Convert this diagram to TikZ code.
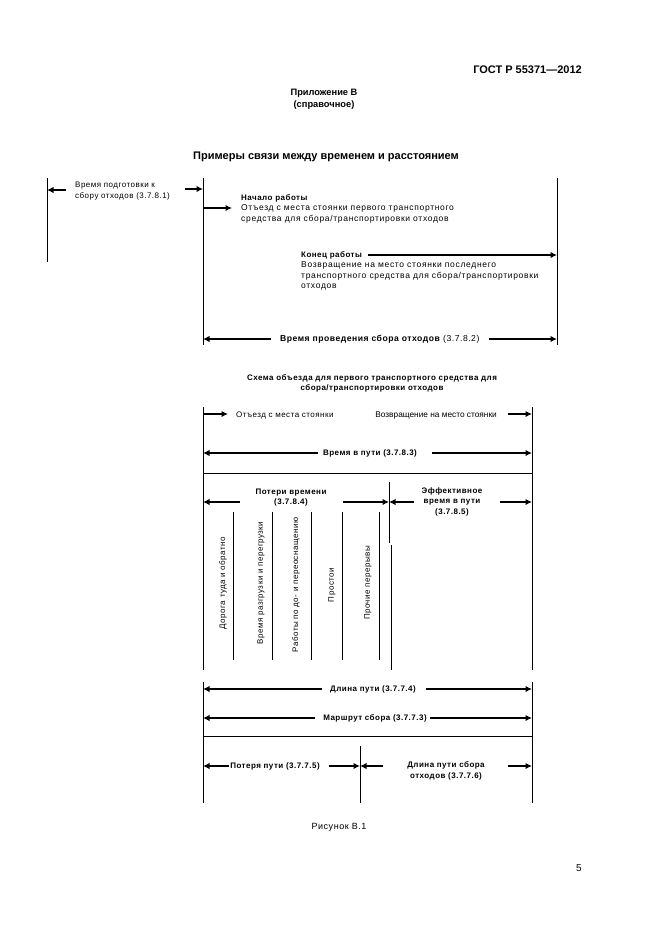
\documentclass[tikz,border=0pt]{standalone}
\usepackage{fontspec}
\setmainfont{Liberation Sans}
\newfontfamily\regf[LetterSpace=6]{Liberation Sans}
\newfontfamily\regw[LetterSpace=8]{Liberation Sans}
\usetikzlibrary{arrows.meta}
\tikzset{
  vline/.style={line width=0.8pt},
  arr/.style={line width=1.7pt,-{Latex[length=6.5pt,width=6.5pt]}},
  txt/.style={inner sep=0pt,font=\regw\fontsize{8.5}{10.5}\selectfont},
  stxt/.style={inner sep=0pt,font=\regf\fontsize{8}{10.5}\selectfont},
  btxt/.style={inner sep=0pt,font=\regf\bfseries\fontsize{8}{10.5}\selectfont},
  rtxt/.style={inner sep=0pt,rotate=90,font=\regf\fontsize{8}{10}\selectfont},
}
\begin{document}
\begin{tikzpicture}[x=1pt,y=-1pt]
\useasboundingbox (0,0) rectangle (661,935);
% header
\node[inner sep=0pt,anchor=east,font=\bfseries\fontsize{11}{13}\selectfont] (gost) at (582,70) {ГОСТ Р 55371—2012};
\node[inner sep=0pt,align=center,font=\bfseries\fontsize{9.3}{12}\selectfont] (app) at (324,99) {Приложение В\\(справочное)};
\node[inner sep=0pt,font=\bfseries\fontsize{11}{13}\selectfont] (title) at (326,157) {Примеры связи между временем и расстоянием};
% top vertical lines
\coordinate (v1t) at (47,178); \coordinate (v1b) at (47,262);
\coordinate (v2t) at (203,178); \coordinate (v2b) at (203,345);
\coordinate (v3t) at (557,178); \coordinate (v3b) at (557,345);
\draw[vline] (v1t) -- (v1b);
\draw[vline] (v2t) -- (v2b);
\draw[vline] (v3t) -- (v3b);
% preparation
\node[stxt,anchor=west,align=left] (prep) at (75,191) {Время подготовки к\\сбору отходов (3.7.8.1)};
\coordinate (p1) at (66,190); \draw[arr] (p1) -- (p1 -| v1t);
\coordinate (p2) at (185,189); \draw[arr] (p2) -- (p2 -| v2t);
% start of work
\node[btxt,anchor=west] (nach) at (241,198) {Начало работы};
\node[txt,anchor=west,align=left] (nachd) at (241,214) {Отъезд с места стоянки первого транспортного\\средства для сбора/транспортировки отходов};
\coordinate (p3) at (232,208); \draw[arr] (p3 -| v2t) -- (p3);
% end of work
\node[btxt,anchor=west] (kon) at (301,255) {Конец работы};
\node[txt,anchor=west,align=left] (kond) at (301,276) {Возвращение на место стоянки последнего\\транспортного средства для сбора/транспортировки\\отходов};
\draw[arr] ([xshift=6pt]kon.east) -- (kon.east -| v3t);
% collection time
\node[btxt,font=\regf\bfseries\fontsize{8.6}{10.5}\selectfont] (vpr) at (380,339) {Время проведения сбора отходов \textmd{(3.7.8.2)}};
\draw[arr] ([xshift=-9pt]vpr.west) -- (vpr.west -| v2t);
\draw[arr] ([xshift=9pt]vpr.east) -- (vpr.east -| v3t);
% scheme
\node[btxt,align=center] (schema) at (372,383.5) {Схема объезда для первого транспортного средства для\\сбора/транспортировки отходов};
\coordinate (m1t) at (203,407); \coordinate (m1b) at (203,670);
\coordinate (m2t) at (532,407); \coordinate (m2b) at (532,670);
\coordinate (n1t) at (203,682); \coordinate (n1b) at (203,803);
\coordinate (n2t) at (532,682); \coordinate (n2b) at (532,803);
\draw[vline] (m1t) -- (m1b);
\draw[vline] (m2t) -- (m2b);
\draw[vline] (n1t) -- (n1b);
\draw[vline] (n2t) -- (n2b);
\coordinate (h1) at (203,473); \draw[vline] (h1) -- (h1 -| m2t);
\coordinate (h2) at (203,736); \draw[vline] (h2) -- (h2 -| n2t);
% row departure / return
\node[stxt,anchor=base west] (otj) at (236,417) {Отъезд с места стоянки};
\node[inner sep=0pt,font=\fontsize{8.3}{10}\selectfont,anchor=base east] (voz) at (497,417) {Возвращение на место стоянки};
\coordinate (r1) at (228,414); \draw[arr] (r1 -| m1t) -- (r1);
\coordinate (r2) at (508,414); \draw[arr] (r2) -- (r2 -| m2t);
% travel time
\node[btxt] (vvp) at (370,453) {Время в пути (3.7.8.3)};
\draw[arr] ([xshift=-5pt]vvp.west) -- (vvp.west -| m1t);
\draw[arr] ([xshift=15pt]vvp.east) -- (vvp.east -| m2t);
% losses / effective
\coordinate (e1t) at (389,482); \coordinate (e1b) at (389,543);
\coordinate (e2t) at (391,545); \coordinate (e2b) at (391,670);
\draw[vline] (e1t) -- (e1b);
\draw[vline] (e2t) -- (e2b);
\node[btxt,align=center] (pot) at (291,497.5) {Потери времени\\(3.7.8.4)};
\node[btxt,align=center] (eff) at (452,501.5) {Эффективное\\время в пути\\(3.7.8.5)};
\coordinate (q1) at (240,502); \draw[arr] (q1) -- (q1 -| m1t);
\coordinate (q2) at (343,502); \draw[arr] (q2) -- (q2 -| e1t);
\coordinate (q4) at (414,502); \draw[arr] (q4) -- (q4 -| e1t);
\coordinate (q5) at (500,502); \draw[arr] (q5) -- (q5 -| m2t);
% dividers
\foreach \x [count=\i] in {233,272,311,342,379} {
  \coordinate (d\i t) at (\x,512); \coordinate (d\i b) at (\x,660);
  \draw[vline] (d\i t) -- (d\i b);
}
\node[rtxt] (c1) at (223,583) {Дорога туда и обратно};
\node[rtxt] (c2) at (261,583) {Время разгрузки и перегрузки};
\node[rtxt] (c3) at (296,585) {Работы по до- и переоснащению};
\node[rtxt] (c4) at (332,585) {Простои};
\node[rtxt] (c5) at (368,583) {Прочие перерывы};
% route length
\node[btxt] (dl) at (373,689) {Длина пути (3.7.7.4)};
\draw[arr] ([xshift=-8pt]dl.west) -- (dl.west -| n1t);
\draw[arr] ([xshift=10pt]dl.east) -- (dl.east -| n2t);
\node[btxt] (mar) at (375,718) {Маршрут сбора (3.7.7.3)};
\draw[arr] ([xshift=-8pt]mar.west) -- (mar.west -| n1t);
\draw[arr] ([xshift=3pt]mar.east) -- (mar.east -| n2t);
% loss of path / collection length
\coordinate (kt) at (360,746); \coordinate (kb) at (360,803);
\draw[vline] (kt) -- (kb);
\node[btxt] (potp) at (275,766) {Потеря пути (3.7.7.5)};
\draw[arr] ([xshift=-1pt]potp.west) -- (potp.west -| n1t);
\draw[arr] ([xshift=9pt]potp.east) -- (potp.east -| kt);
\node[btxt,align=center] (dls) at (446,771) {Длина пути сбора\\отходов (3.7.7.6)};
\coordinate (s1) at (383,766); \draw[arr] (s1) -- (s1 -| kt);
\coordinate (s2) at (508,766); \draw[arr] (s2) -- (s2 -| n2t);
% footer
\node[inner sep=0pt,font=\regf\fontsize{9}{11}\selectfont] (fig) at (339,827) {Рисунок В.1};
\node[inner sep=0pt,font=\fontsize{10}{12}\selectfont] (page) at (579,868) {5};
\end{tikzpicture}
\end{document}
